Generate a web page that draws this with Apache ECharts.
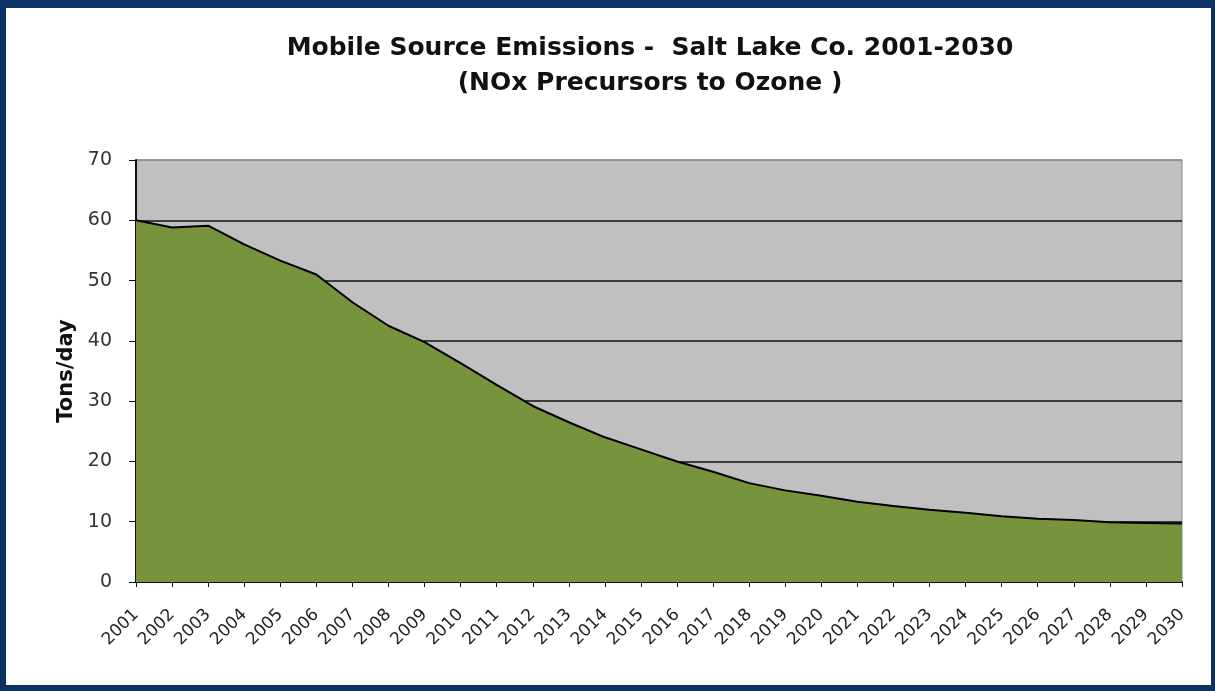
<!DOCTYPE html>
<html>
<head>
<meta charset="utf-8">
<script src="https://cdn.jsdelivr.net/npm/echarts@6/dist/echarts.min.js"></script>
<style>
	html, body { margin: 0; padding: 0; background: #fff; }
	#frame {
		width: 1215px; height: 691px; box-sizing: border-box;
		border-style: solid; border-color: #0b3262;
		border-width: 8px 4px 6px 6px;
	}
	#chart { width: 100%; height: 100%; }
</style>
</head>
<body>
<div id="frame"><div id="chart"></div></div>
<script>
// 年份
var years = ['2001', '2002', '2003', '2004', '2005', '2006', '2007', '2008', '2009', '2010',
	'2011', '2012', '2013', '2014', '2015', '2016', '2017', '2018', '2019', '2020',
	'2021', '2022', '2023', '2024', '2025', '2026', '2027', '2028', '2029', '2030']

// NOx 吨/天
var noxTons = [60.0, 58.8, 59.1, 56.0, 53.3, 51.0, 46.4, 42.5, 39.8, 36.3,
	32.7, 29.2, 26.5, 24.0, 22.0, 20.0, 18.3, 16.4, 15.2, 14.3,
	13.3, 12.6, 12.0, 11.5, 10.9, 10.5, 10.3, 9.9, 9.8, 9.7]

var yTicks = [0, 10, 20, 30, 40, 50, 60, 70]

var chart = echarts.init(document.getElementById('chart'))

var font = 'DejaVu Sans, Liberation Sans, sans-serif'

var option = {}
option.animation = false

option.title = {
	text: 'Mobile Source Emissions -  Salt Lake Co. 2001-2030\n(NOx Precursors to Ozone )',
	left: 639,
	top: 18,
	textAlign: 'center',
	textStyle: {
		fontFamily: font,
		fontSize: 25,
		fontWeight: 'bold',
		color: '#111',
		lineHeight: 35
	}
}

option.grid = {
	left: 130,
	right: 29,
	top: 152,
	bottom: 103,
	show: true,
	backgroundColor: '#c0c0c0',
	borderColor: '#8a8a8a',
	borderWidth: 1
}

option.xAxis = {
	type: 'category',
	data: years,
	boundaryGap: false,
	axisLine: { lineStyle: { color: '#111', width: 2 } },
	axisTick: { show: true, length: 5, lineStyle: { color: '#111' } },
	axisLabel: {
		rotate: 45,
		fontFamily: font,
		fontSize: 17,
		color: '#222',
		margin: 30
	}
}

option.yAxis = {
	type: 'value',
	min: yTicks[0],
	max: yTicks[yTicks.length - 1],
	interval: 10,
	name: 'Tons/day',
	nameLocation: 'middle',
	nameRotate: 90,
	nameGap: 58,
	nameTextStyle: {
		fontFamily: font,
		fontSize: 21,
		fontWeight: 'bold',
		color: '#111'
	},
	axisLine: { show: true, lineStyle: { color: '#111', width: 2 } },
	axisTick: { show: true, length: 7, lineStyle: { color: '#111' } },
	axisLabel: {
		fontFamily: font,
		fontSize: 19,
		color: '#333',
		margin: 24
	},
	splitLine: {
		show: true,
		lineStyle: {
			// 顶部70那条是边框灰色
			color: ['#111', '#111', '#111', '#111', '#111', '#111', '#111', '#8a8a8a'],
			width: 1.5
		}
	}
}

option.series = [{
	name: 'NOx',
	type: 'line',
	data: noxTons,
	symbol: 'none',
	lineStyle: { color: '#000', width: 2 },
	areaStyle: { color: '#77933c', opacity: 1 }
}]

chart.setOption(option)
</script>
</body>
</html>
